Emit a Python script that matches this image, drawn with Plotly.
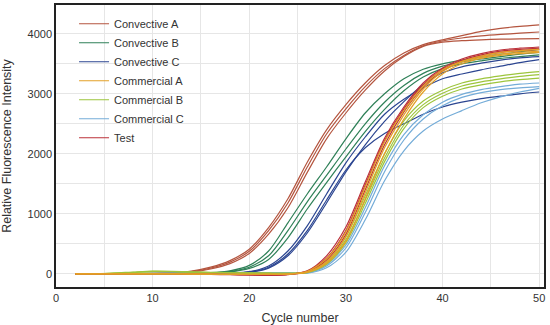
import plotly.graph_objects as go

CYCLES = [2, 4, 6, 8, 10, 12, 14, 16, 18, 20, 22, 24, 26, 28, 30, 32, 34, 36, 38, 40, 42, 44, 46, 48, 50]

CONV_A = [
    [0, 0, 1, 3, 8, 18, 45, 110, 220, 410, 770, 1250, 1860, 2400, 2820, 3180, 3470, 3680, 3820, 3900, 3970, 4040, 4090, 4125, 4150],
    [0, 0, 1, 2, 6, 14, 38, 95, 195, 375, 720, 1180, 1780, 2330, 2750, 3120, 3420, 3640, 3800, 3880, 3930, 3965, 3990, 4010, 4030],
    [0, 0, 0, 2, 5, 12, 30, 80, 170, 340, 660, 1100, 1690, 2250, 2680, 3060, 3380, 3620, 3790, 3860, 3885, 3900, 3910, 3915, 3920],
]
CONV_B = [
    [0, 0, 1, 2, 4, 6, 10, 18, 50, 140, 380, 850, 1330, 1780, 2250, 2680, 3000, 3250, 3410, 3500, 3560, 3610, 3660, 3700, 3740],
    [0, 0, 0, 1, 3, 5, 8, 15, 40, 110, 300, 720, 1200, 1640, 2080, 2500, 2860, 3140, 3340, 3460, 3530, 3580, 3620, 3660, 3690],
    [0, 0, 0, 1, 3, 5, 7, 12, 32, 90, 240, 600, 1080, 1520, 1950, 2370, 2740, 3050, 3280, 3420, 3500, 3550, 3590, 3620, 3650],
]
CONV_C = [
    [0, 0, 0, 1, 2, 4, 6, 10, 15, 35, 130, 380, 800, 1330, 1850, 2280, 2660, 2910, 3100, 3250, 3330, 3400, 3460, 3520, 3570],
    [0, 0, 0, 1, 2, 3, 5, 8, 12, 28, 110, 330, 720, 1230, 1730, 2100, 2340, 2500, 2660, 2780, 2860, 2920, 2960, 3000, 3030],
    [0, 0, 0, 0, 1, 3, 4, 6, 10, 24, 95, 300, 680, 1180, 1700, 2150, 2540, 2870, 3150, 3350, 3450, 3510, 3560, 3600, 3620],
]
COMM_A = [
    [0, 0, 0, 0, 0, -2, -5, -8, -10, -12, -10, -5, 40, 250, 700, 1450, 2200, 2720, 3130, 3400, 3540, 3630, 3690, 3720, 3740],
    [0, 0, 0, 0, 0, -2, -4, -7, -9, -10, -9, -5, 30, 200, 620, 1350, 2100, 2650, 3080, 3370, 3530, 3610, 3660, 3690, 3710],
    [0, 0, 0, 0, 0, -1, -3, -6, -8, -9, -8, -4, 25, 170, 540, 1250, 2000, 2580, 3030, 3330, 3500, 3590, 3640, 3670, 3690],
]
COMM_B = [
    [0, 3, 12, 30, 45, 42, 32, 25, 20, 15, 10, 8, 30, 200, 620, 1300, 2000, 2550, 2880, 3060, 3180, 3250, 3300, 3340, 3370],
    [0, 2, 10, 25, 40, 38, 30, 22, 18, 14, 10, 7, 25, 180, 570, 1230, 1930, 2480, 2820, 3010, 3130, 3200, 3250, 3290, 3320],
    [0, 2, 8, 20, 35, 35, 28, 20, 16, 12, 8, 6, 20, 160, 520, 1170, 1870, 2420, 2770, 2960, 3080, 3150, 3200, 3235, 3260],
]
COMM_C = [
    [0, 1, 3, 5, 8, 10, 10, 12, 15, 18, 20, 18, 20, 150, 480, 1100, 1800, 2320, 2650, 2860, 2990, 3070, 3120, 3160, 3180],
    [0, 1, 2, 4, 6, 8, 9, 10, 12, 15, 16, 14, 15, 130, 430, 1020, 1700, 2230, 2580, 2800, 2940, 3020, 3070, 3100, 3120],
    [0, 0, 2, 3, 5, 6, 7, 8, 10, 12, 14, 12, 10, 100, 360, 900, 1550, 2050, 2380, 2580, 2720, 2850, 2950, 3030, 3090],
]
TEST = [
    [0, 0, 0, 1, 2, 0, -5, -10, -15, -20, -25, -15, 50, 300, 780, 1530, 2260, 2780, 3180, 3430, 3580, 3670, 3730, 3760, 3780],
    [0, 0, 0, 1, 1, 0, -4, -8, -12, -18, -20, -12, 40, 260, 720, 1480, 2220, 2750, 3150, 3410, 3560, 3650, 3710, 3740, 3760],
    [0, 0, 0, 0, 1, 0, -3, -7, -11, -15, -18, -10, 35, 230, 660, 1400, 2150, 2700, 3110, 3380, 3540, 3630, 3690, 3720, 3740],
]

X_TICKS = [0, 10, 20, 30, 40, 50]
Y_TICKS = [0, 1000, 2000, 3000, 4000]

# (name, data, color, legend rank) in drawing order
GROUPS = [
    ("Convective A", CONV_A, "#b4553f", 1),
    ("Convective B", CONV_B, "#2f8058", 2),
    ("Convective C", CONV_C, "#2b4591", 3),
    ("Commercial C", COMM_C, "#74acd8", 6),
    ("Commercial B", COMM_B, "#9dc53c", 5),
    ("Test", TEST, "#bb3038", 7),
    ("Commercial A", COMM_A, "#e3a027", 4),
]

fig = go.Figure()
for name, reps, color, rank in GROUPS:
    for i, ys in enumerate(reps):
        fig.add_trace(go.Scatter(
            x=CYCLES, y=ys, mode="lines", name=name,
            line=dict(color=color, width=1.2, shape="spline", smoothing=0.8),
            legendgroup=name, showlegend=(i == 0), legendrank=rank,
        ))

FONT = "Liberation Sans, Arial, sans-serif"
fig.update_layout(
    width=550, height=325,
    margin=dict(l=56, r=6, t=5, b=38),
    paper_bgcolor="white", plot_bgcolor="white",
    font=dict(family=FONT, size=11, color="#333"),
    legend=dict(x=0.037, y=0.985, xanchor="left", yanchor="top",
                bgcolor="rgba(0,0,0,0)", font=dict(size=11, color="#333"),
                tracegroupgap=0),
    xaxis=dict(range=[0, 50.5], tickvals=X_TICKS, showline=True, mirror=True,
               linecolor="#222", linewidth=1.5, showgrid=True, gridcolor="#e6e6e6",
               zeroline=False, ticks="", automargin=False,
               minor=dict(dtick=5, showgrid=True, gridcolor="#e6e6e6"),
               title=dict(text="Cycle number", font=dict(size=12.5, color="#333")),
               tickfont=dict(size=11, color="#333")),
    yaxis=dict(range=[-220, 4480], tickvals=Y_TICKS, showline=True, mirror=True,
               linecolor="#222", linewidth=1.5, showgrid=True, gridcolor="#e6e6e6",
               zeroline=False, ticks="", automargin=False,
               minor=dict(dtick=500, showgrid=True, gridcolor="#e6e6e6"),
               title=dict(text="Relative Fluorescence Intensity", font=dict(size=12.5, color="#333")),
               tickfont=dict(size=11, color="#333")),
)

fig.write_html("out.html", config={"displayModeBar": False},
               post_script="document.body.style.margin='0';document.body.style.padding='0';")
